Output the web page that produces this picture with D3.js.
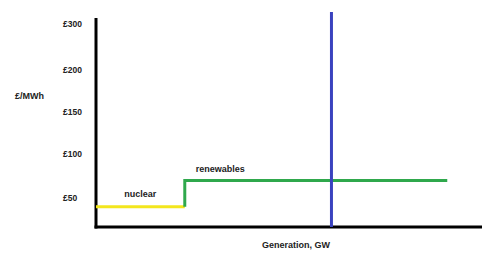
<!DOCTYPE html>
<html>
<head>
<meta charset="utf-8">
<script src="https://cdn.jsdelivr.net/npm/d3@7"></script>
<style>
  html, body { margin: 0; padding: 0; background: #fff; }
  svg { display: block; }
  text { font-family: "Liberation Sans", Arial, sans-serif; font-weight: bold; fill: #222; }
</style>
</head>
<body>
<svg id="chart" width="500" height="263"></svg>
<script>
// ---- data ----
const priceTicks = [300, 200, 150, 100, 50];
const priceTickLabels = ["£300", "£200", "£150", "£100", "£50"];
const supplySegments = ["nuclear", "renewables"];
const supplyStartGW = [0, 23];
const supplyEndGW = [23, 91];
const supplyPrice = [35, 70];
const demandGW = 61;
const demandPriceRange = [0, 326];
const yAxisTitle = "£/MWh";
const xAxisTitle = "Generation, GW";

// ---- layout ----
const svg = d3.select("#chart");
const x = d3.scaleLinear().domain([0, 100]).range([96, 482]);
// hand-drawn, non-linear price axis
const y = d3.scaleLinear()
  .domain([0, 50, 100, 150, 200, 300, 313])
  .range([227, 198, 154, 112, 70, 24, 18]);

const colors = { nuclear: "#f3e61c", renewables: "#2fa84c", demand: "#3a42bf" };

// y axis
const yAxis = d3.axisLeft(y).tickValues(priceTicks)
  .tickFormat((d, i) => priceTickLabels[i]).tickSize(0).tickSizeOuter(0);
const gy = svg.append("g").attr("transform", "translate(96,0)").call(yAxis);
gy.select(".domain").remove();
gy.selectAll("text").attr("text-anchor", "start").attr("x", -33)
  .attr("dy", "0.35em").style("font-size", "8.5px").style("font-family", "'Liberation Sans', Arial, sans-serif").style("font-weight", "bold").attr("fill", "#222");

// axis lines
svg.append("line").attr("x1", x(0)).attr("x2", x(0)).attr("y1", y(313)).attr("y2", y(0) + 1.5)
  .attr("stroke", "#000").attr("stroke-width", 3);
svg.append("line").attr("x1", x(0) - 1.5).attr("x2", x(100)).attr("y1", y(0)).attr("y2", y(0))
  .attr("stroke", "#000").attr("stroke-width", 3);

// supply curve segments (step)
supplySegments.forEach((name, i) => {
  const pts = [];
  if (i > 0) pts.push([x(supplyStartGW[i]), y(supplyPrice[i - 1])]);
  pts.push([x(supplyStartGW[i]), y(supplyPrice[i])]);
  pts.push([x(supplyEndGW[i]), y(supplyPrice[i])]);
  svg.append("path").attr("d", d3.line()(pts)).attr("fill", "none")
    .attr("stroke", colors[name]).attr("stroke-width", 3);
});

// demand line
svg.append("line").attr("x1", x(demandGW)).attr("x2", x(demandGW))
  .attr("y1", y(demandPriceRange[1])).attr("y2", y(demandPriceRange[0]))
  .attr("stroke", colors.demand).attr("stroke-width", 3);

// labels
svg.append("text").attr("x", x(1.1) + 24).attr("y", y(supplyPrice[0]) - 10)
  .style("font-size", "9px").text("nuclear");
svg.append("text").attr("x", x(supplyStartGW[1]) + 11).attr("y", y(supplyPrice[1]) - 8)
  .style("font-size", "9px").text("renewables");
svg.append("text").attr("x", 15).attr("y", 99).style("font-size", "9px").text(yAxisTitle);
svg.append("text").attr("x", 262).attr("y", 248).style("font-size", "9px").text(xAxisTitle);
</script>
</body>
</html>
